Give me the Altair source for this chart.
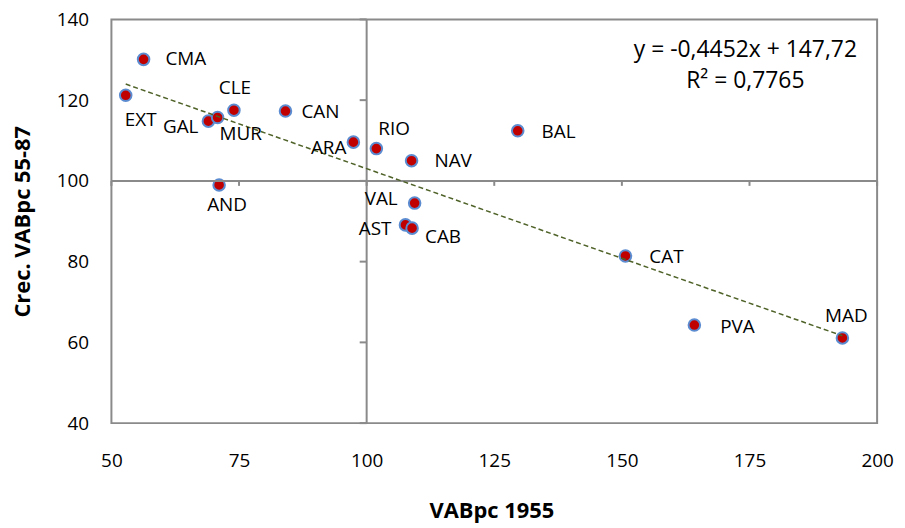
import altair as alt
import pandas as pd

# ---- data ----
regions = ["CMA", "EXT", "GAL", "MUR", "CLE", "CAN", "ARA", "RIO", "NAV",
           "AND", "VAL", "AST", "CAB", "BAL", "CAT", "PVA", "MAD"]
vab_1955 = [56.3, 52.8, 69.0, 70.8, 74.0, 84.1, 97.4, 101.9, 108.8,
            71.1, 109.4, 107.6, 108.9, 129.6, 150.7, 164.2, 193.2]
crec_55_87 = [130.1, 121.2, 114.8, 115.7, 117.5, 117.3, 109.6, 108.0, 105.0,
              99.0, 94.5, 89.1, 88.3, 112.4, 81.4, 64.3, 61.1]
x_ticks = [50, 75, 100, 125, 150, 175, 200]
y_ticks = [40, 60, 80, 100, 120, 140]
equation_lines = ["y = -0,4452x + 147,72", "R² = 0,7765"]

# ---- label placement (layout only: align, dx, dy in pixels) ----
label_layout = {
    "CMA": ("left", 22, 0), "EXT": ("center", 15, 25), "GAL": ("right", -10, 6),
    "MUR": ("left", 2, 17), "CLE": ("center", 1, -22), "CAN": ("left", 16, 1),
    "ARA": ("right", -7, 6), "RIO": ("left", 2, -20), "NAV": ("left", 23, 0),
    "AND": ("center", 8, 20), "VAL": ("right", -17, -4), "AST": ("right", -14, 4),
    "CAB": ("left", 13, 9), "BAL": ("left", 24, 1), "CAT": ("left", 24, 1),
    "PVA": ("left", 26, 2), "MAD": ("center", 4, -22),
}

df = pd.DataFrame({"region": regions, "x": vab_1955, "y": crec_55_87})
xt = pd.DataFrame({"v": x_ticks})
yt = pd.DataFrame({"v": y_ticks})
one = pd.DataFrame({"k": [0]})

FONT = "Open Sans"
GRAY = "#8a8a8a"
W, H = 770, 406

xs = alt.Scale(domain=[50, 200], nice=False, zero=False)
ys = alt.Scale(domain=[40, 140], nice=False, zero=False)

x_axis = alt.Axis(values=x_ticks, labelPadding=29,
                  title="VABpc 1955",
                  titleX=382, titleY=95, titleBaseline="alphabetic", titleAlign="center")
y_axis = alt.Axis(values=y_ticks, labelPadding=23,
                  title="Crec. VABpc 55-87",
                  titleX=-82, titleY=203, titleBaseline="alphabetic", titleAlign="center",
                  titleAngle=270)

base = alt.Chart(df)

vline = alt.Chart(one).mark_rule(color=GRAY, strokeWidth=2).encode(
    x=alt.XDatum(100, scale=xs))
hline = alt.Chart(one).mark_rule(color=GRAY, strokeWidth=2).encode(
    y=alt.YDatum(100, scale=ys))

yticks_m = alt.Chart(yt).mark_rule(color=GRAY, strokeWidth=2, xOffset=-7).encode(
    x=alt.XDatum(100, scale=xs), x2=alt.X2Datum(100),
    y=alt.Y("v:Q", scale=ys))
xticks_m = alt.Chart(xt).mark_rule(color=GRAY, strokeWidth=2, y2Offset=5).encode(
    y=alt.YDatum(100, scale=ys), y2=alt.Y2Datum(100),
    x=alt.X("v:Q", scale=xs))

trend = base.transform_regression("x", "y").mark_line(
    color="#4F6228", strokeWidth=1.5, strokeDash=[5, 3]).encode(
    x=alt.X("x:Q", scale=xs), y=alt.Y("y:Q", scale=ys))

points = base.mark_circle(size=135, color="#C00000", opacity=1,
                          stroke="#5B8BD0", strokeWidth=2).encode(
    x=alt.X("x:Q", scale=xs, axis=x_axis), y=alt.Y("y:Q", scale=ys, axis=y_axis))

label_layers = []
for name in regions:
    al, dx, dy = label_layout[name]
    label_layers.append(
        base.transform_filter(alt.datum.region == name).mark_text(
            align=al, baseline="middle", dx=dx, dy=dy, font=FONT, fontSize=19,
            color="#000000").encode(
            x=alt.X("x:Q", scale=xs), y=alt.Y("y:Q", scale=ys),
            text="region:N"))

eq = alt.Chart(one).mark_text(text=equation_lines, align="center", baseline="alphabetic",
                              lineHeight=31, font=FONT, fontSize=23,
                              color="#000000").encode(
    x=alt.value(637.5), y=alt.value(38))

chart = alt.layer(points, vline, hline, yticks_m, xticks_m, trend, *label_layers, eq).properties(
    width=W, height=H,
    background="white",
    autosize=alt.AutoSizeParams(type="none"),
    padding={"left": 104, "top": 10, "right": 20, "bottom": 104},
).configure_view(stroke=GRAY, strokeWidth=2).configure_axis(
    domain=False, ticks=False, tickSize=0, grid=False,
    labelFont=FONT, labelFontSize=19, labelColor="#000000",
    labelFlush=False, labelOverlap=False,
    titleFont=FONT, titleFontSize=22, titleFontWeight="bold", titleColor="#000000",
)

chart.save("out.html", embed_options={"renderer": "svg", "actions": False})
